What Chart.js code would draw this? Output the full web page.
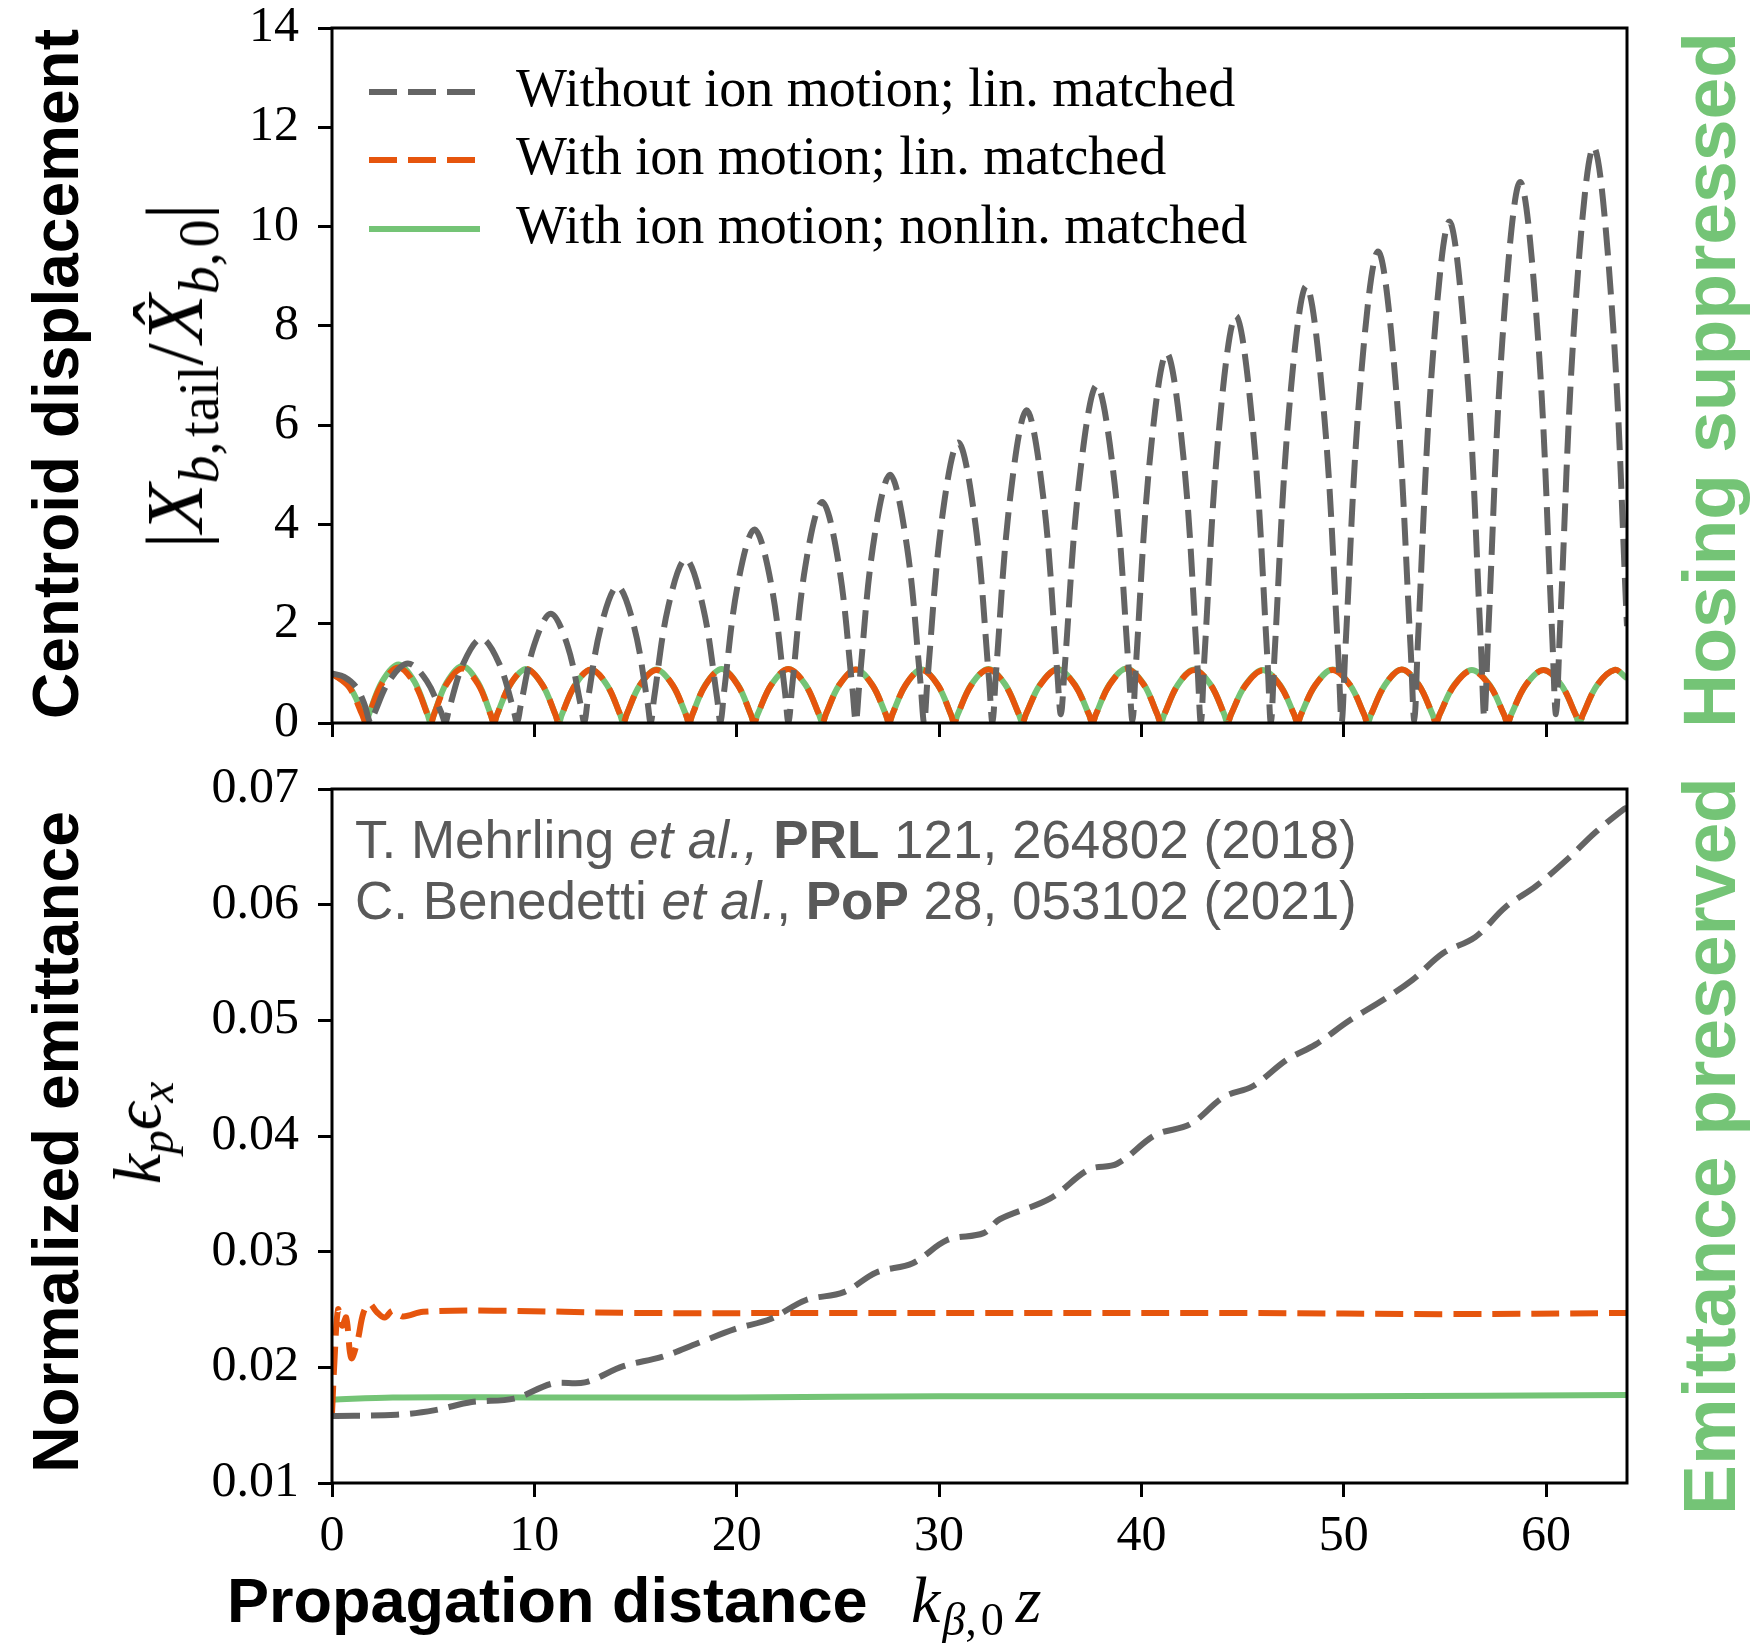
<!DOCTYPE html>
<html>
<head>
<meta charset="utf-8">
<script src="https://cdn.jsdelivr.net/npm/chart.js@4.4.1/dist/chart.umd.min.js"></script>
<style>
  html, body { margin: 0; padding: 0; background: #fff; }
  #page { position: relative; width: 1752px; height: 1643px; overflow: hidden; background: #fff; }
  canvas { position: absolute; left: 0; }
  #top-chart { top: 0; }
  #bottom-chart { top: 760px; }
  .label { position: absolute; white-space: nowrap; line-height: 1; }
  .rot { transform: translate(-50%, -50%) rotate(-90deg); }
  .bold { font-family: "Liberation Sans", Arial, sans-serif; font-weight: bold; }
  .math { font-family: "Liberation Serif", serif; }
  .math sub { font-size: 0.7em; vertical-align: -0.28em; line-height: 0; }
  .cite { font-family: "Liberation Sans", Arial, sans-serif; font-size: 53px; color: #595959; }
  .green { color: #74c476; }
</style>
</head>
<body>
<div id="page">
  <canvas id="top-chart" width="1752" height="760"></canvas>
  <canvas id="bottom-chart" width="1752" height="883"></canvas>

  <div class="label bold rot" style="left:56px; top:374px; font-size:64px;">Centroid displacement</div>
  <div class="label bold rot" style="left:56px; top:1142px; font-size:64px;">Normalized emittance</div>
  <div class="label math rot" style="left:175px; top:376px; font-size:80px;">|<i>X</i><sub><i>b</i>,&#8202;tail</sub>/<i>X&#770;</i><sub><i>b</i>,&#8202;0</sub>|</div>
  <div class="label math rot" style="left:137px; top:1133px; font-size:68px;"><i>k</i><sub><i>p</i></sub><i>&#1013;</i><sub><i>x</i></sub></div>
  <div class="label bold rot green" style="left:1709px; top:380px; font-size:75px;">Hosing suppressed</div>
  <div class="label bold rot green" style="left:1709px; top:1146px; font-size:75px;">Emittance preserved</div>

  <div class="label cite" style="left:355px; top:813px;">T. Mehrling <i>et al.,</i> <b>PRL</b> 121, 264802 (2018)</div>
  <div class="label cite" style="left:355px; top:874px;">C. Benedetti <i>et al.</i>, <b>PoP</b> 28, 053102 (2021)</div>

  <div class="label bold" style="left:227px; top:1569px; font-size:63px;">Propagation distance</div>
  <div class="label math" style="left:911px; top:1567px; font-size:66px;"><i>k</i><sub style="margin-left:2px;"><i>&beta;</i>,&#8202;0</sub><i style="margin-left:12px;">z</i></div>
</div>

<script>
// --- DATA: top panel, |X_b,tail / X_b,0| ---
const greyTopX = [0, 0.6, 1.2, 1.6, 1.9,
  2.09, 2.83, 3.75, 4.68, 5.42, 5.6,
  5.78, 6.49, 7.38, 8.26, 8.97, 9.15,
  9.32, 9.98, 10.81, 11.64, 12.30, 12.47,
  12.63, 13.29, 14.11, 14.93, 15.59, 15.75,
  15.92, 16.61, 17.48, 18.34, 19.03, 19.2,
  19.37, 20.04, 20.88, 21.72, 22.39, 22.56,
  22.73, 23.39, 24.23, 25.06, 25.72, 25.89,
  26.06, 26.73, 27.58, 28.42, 29.09, 29.26,
  29.43, 30.11, 30.95, 31.80, 32.47, 32.64,
  32.81, 33.49, 34.33, 35.18, 35.85, 36.02,
  36.2, 36.91, 37.79, 38.68, 39.38, 39.56,
  39.73, 40.41, 41.25, 42.1, 42.77, 42.94,
  43.11, 43.81, 44.67, 45.54, 46.23, 46.4,
  46.58, 47.28, 48.15, 49.03, 49.73, 49.9,
  50.08, 50.8, 51.7, 52.59, 53.31, 53.49,
  53.66, 54.36, 55.22, 56.09, 56.78, 56.95,
  57.13, 57.84, 58.72, 59.61, 60.31, 60.49,
  60.68, 61.42, 62.35, 63.28, 64];
const greyTopY = [1.0, 0.93, 0.72, 0.38, 0,
  0.19, 0.85, 1.2, 0.85, 0.19, 0,
  0.27, 1.2, 1.7, 1.2, 0.27, 0,
  0.34, 1.56, 2.2, 1.56, 0.34, 0,
  0.43, 1.94, 2.75, 1.94, 0.43, 0,
  0.51, 2.33, 3.3, 2.33, 0.51, 0,
  0.61, 2.76, 3.9, 2.76, 0.61, 0,
  0.69, 3.15, 4.45, 3.15, 0.69, 0.03,
  0.78, 3.54, 5.0, 3.54, 0.78, 0,
  0.88, 4.0, 5.65, 4.0, 0.88, 0,
  0.98, 4.45, 6.3, 4.45, 0.98, 0.18,
  1.06, 4.81, 6.8, 4.81, 1.06, 0.05,
  1.16, 5.27, 7.45, 5.27, 1.16, 0,
  1.28, 5.8, 8.2, 5.8, 1.28, 0,
  1.37, 6.22, 8.8, 6.22, 1.37, 0.02,
  1.48, 6.72, 9.5, 6.72, 1.48, 0.05,
  1.58, 7.14, 10.1, 7.14, 1.58, 0.11,
  1.7, 7.71, 10.9, 7.71, 1.7, 0.18,
  1.81, 8.2, 11.6, 8.2, 1.95];

// both "with ion motion" runs are sampled at the same z
const ionTopX = [0, 0.85, 1.5, 1.67,
  1.83, 2.47, 3.28, 4.08, 4.72, 4.88,
  5.04, 5.66, 6.44, 7.22, 7.84, 8.0,
  8.16, 8.8, 9.6, 10.4, 11.04, 11.2,
  11.36, 12.0, 12.8, 13.6, 14.24, 14.4,
  14.56, 15.21, 16.03, 16.84, 17.49, 17.65,
  17.81, 18.45, 19.26, 20.06, 20.7, 20.86,
  21.03, 21.71, 22.55, 23.4, 24.07, 24.24,
  24.4, 25.06, 25.89, 26.71, 27.37, 27.53,
  27.69, 28.34, 29.14, 29.95, 30.59, 30.75,
  30.92, 31.59, 32.44, 33.28, 33.95, 34.12,
  34.29, 34.99, 35.85, 36.72, 37.41, 37.58,
  37.75, 38.43, 39.27, 40.12, 40.79, 40.96,
  41.13, 41.79, 42.61, 43.44, 44.1, 44.26,
  44.43, 45.13, 45.99, 46.86, 47.55, 47.72,
  47.89, 48.59, 49.45, 50.32, 51.01, 51.18,
  51.35, 52.03, 52.87, 53.72, 54.39, 54.56,
  54.74, 55.45, 56.33, 57.22, 57.92, 58.1,
  58.28, 58.99, 59.87, 60.76, 61.46, 61.64,
  61.82, 62.52, 63.39, 64];
const linTopY = [1.0, 0.72, 0.16, 0,
  0.17, 0.79, 1.12, 0.79, 0.17, 0,
  0.17, 0.78, 1.1, 0.78, 0.17, 0,
  0.17, 0.77, 1.09, 0.77, 0.17, 0,
  0.17, 0.76, 1.08, 0.76, 0.17, 0,
  0.17, 0.76, 1.07, 0.76, 0.17, 0,
  0.17, 0.76, 1.08, 0.76, 0.17, 0,
  0.17, 0.77, 1.09, 0.77, 0.17, 0,
  0.17, 0.76, 1.08, 0.76, 0.17, 0,
  0.17, 0.76, 1.07, 0.76, 0.17, 0,
  0.17, 0.76, 1.08, 0.76, 0.17, 0,
  0.17, 0.76, 1.08, 0.76, 0.17, 0,
  0.17, 0.77, 1.09, 0.77, 0.17, 0,
  0.17, 0.76, 1.07, 0.76, 0.17, 0,
  0.17, 0.75, 1.06, 0.75, 0.17, 0,
  0.17, 0.76, 1.07, 0.76, 0.17, 0,
  0.17, 0.76, 1.08, 0.76, 0.17, 0,
  0.17, 0.75, 1.06, 0.75, 0.17, 0,
  0.17, 0.76, 1.07, 0.76, 0.17, 0,
  0.17, 0.76, 1.07, 0.9];
const nonlinTopY = [1.0, 0.74, 0.2, 0,
  0.18, 0.83, 1.18, 0.83, 0.18, 0,
  0.18, 0.81, 1.15, 0.81, 0.18, 0,
  0.17, 0.77, 1.09, 0.77, 0.17, 0,
  0.17, 0.76, 1.08, 0.76, 0.17, 0,
  0.17, 0.76, 1.08, 0.76, 0.17, 0,
  0.17, 0.77, 1.09, 0.77, 0.17, 0,
  0.17, 0.77, 1.09, 0.77, 0.17, 0,
  0.17, 0.76, 1.08, 0.76, 0.17, 0,
  0.17, 0.76, 1.08, 0.76, 0.17, 0,
  0.17, 0.77, 1.09, 0.77, 0.17, 0,
  0.17, 0.77, 1.09, 0.77, 0.17, 0,
  0.17, 0.78, 1.1, 0.78, 0.17, 0,
  0.17, 0.76, 1.08, 0.76, 0.17, 0,
  0.17, 0.76, 1.07, 0.76, 0.17, 0,
  0.17, 0.76, 1.08, 0.76, 0.17, 0,
  0.17, 0.76, 1.08, 0.76, 0.17, 0,
  0.17, 0.76, 1.07, 0.76, 0.17, 0,
  0.17, 0.76, 1.07, 0.76, 0.17, 0,
  0.17, 0.76, 1.07, 0.9];

// --- DATA: bottom panel, k_p eps_x ---
const greyBotX = [0, 3.2, 5.1, 6.9, 9.0, 10.9, 12.5, 14.4, 16.3, 18.1,
  19.9, 21.7, 23.4, 25.3, 26.9, 28.7, 30.4, 32.2, 33.0, 35.5,
  37.4, 38.8, 40.7, 42.4, 44.1, 45.5, 47.2, 48.6, 50.3, 51.8,
  53.4, 54.9, 56.5, 58.0, 59.5, 61.1, 62.4, 63.8, 64];
const greyBotY = [0.0158, 0.0159, 0.0163, 0.0170, 0.0173, 0.0186, 0.0187, 0.0201, 0.0209, 0.0221,
  0.0233, 0.0242, 0.0258, 0.0265, 0.0282, 0.0290, 0.0310, 0.0316, 0.0328, 0.0346,
  0.0371, 0.0376, 0.0401, 0.0410, 0.0434, 0.0443, 0.0466, 0.0479, 0.0500, 0.0516,
  0.0535, 0.0558, 0.0572, 0.0598, 0.0616, 0.0640, 0.0662, 0.0682, 0.0684];
const linBotX = [0, 0.12, 0.3, 0.5, 0.7, 0.95, 1.25, 1.55, 1.85, 2.2, 2.6, 3.0, 3.5, 4.5, 8, 15, 25, 35, 45, 55, 64];
const linBotY = [0.0160, 0.0205, 0.0250, 0.0236, 0.0243, 0.0208, 0.0222, 0.0247, 0.0255, 0.0248, 0.0243,
  0.0249, 0.0244, 0.0248, 0.0249, 0.0247, 0.0247, 0.0247, 0.0247, 0.0246, 0.0247];
const nonlinBotX = [0, 3, 10, 20, 30, 40, 50, 64];
const nonlinBotY = [0.0172, 0.0174, 0.0174, 0.0174, 0.0175, 0.0175, 0.0175, 0.0176];

const SERIES_LABELS = [
  'Without ion motion; lin. matched',
  'With ion motion; lin. matched',
  'With ion motion; nonlin. matched'
];
const X_TICK_STEP = 10;

// --- STYLE ---
const GREY = '#646464';
const ORANGE = '#e6550d';
const GREEN = '#74c476';
const DASH = [28, 11];
const tickFont = { family: '"Liberation Serif", serif', size: 50, lineHeight: 1 };

function toPoints(xs, ys) {
  return xs.map((x, i) => ({ x: x, y: ys[i] }));
}

function lineSet(label, xs, ys, color, dashed) {
  return {
    label: label,
    data: toPoints(xs, ys),
    borderColor: color,
    borderWidth: 6,
    borderDash: dashed ? DASH : [],
    borderCapStyle: 'butt',
    borderJoinStyle: 'round',
    pointRadius: 0,
    tension: 0.35,
    fill: false
  };
}

// box around the plot area, like matplotlib spines
const framePlugin = {
  id: 'frame',
  afterDraw(chart) {
    const { ctx, chartArea: a } = chart;
    ctx.save();
    ctx.strokeStyle = '#000';
    ctx.lineWidth = 3;
    ctx.strokeRect(a.left, a.top, a.right - a.left, a.bottom - a.top);
    ctx.restore();
  }
};

// legend drawn inside the top axes
const legendPlugin = {
  id: 'insideLegend',
  afterDraw(chart) {
    const ctx = chart.ctx;
    const a = chart.chartArea;
    const rowY = [a.top + 64, a.top + 132, a.top + 201];
    ctx.save();
    chart.data.datasets.forEach((ds, i) => {
      const y = rowY[i];
      ctx.strokeStyle = ds.borderColor;
      ctx.lineWidth = ds.borderWidth;
      ctx.lineCap = 'butt';
      ctx.setLineDash(ds.borderDash);
      ctx.beginPath();
      ctx.moveTo(a.left + 37, y);
      ctx.lineTo(a.left + 148, y);
      ctx.stroke();
      ctx.setLineDash([]);
      ctx.fillStyle = '#000';
      ctx.font = '54px "Liberation Serif"';
      ctx.textBaseline = 'middle';
      ctx.textAlign = 'left';
      ctx.fillText(ds.label, a.left + 184, y);
    });
    ctx.restore();
  }
};

function makeChart(canvasId, datasets, yCfg, opts) {
  const ctx = document.getElementById(canvasId).getContext('2d');
  return new Chart(ctx, {
    type: 'line',
    data: { datasets: datasets },
    options: {
      responsive: false,
      animation: false,
      devicePixelRatio: 1,
      layout: { padding: { left: 0, right: 125, top: opts.padTop, bottom: 0 } },
      plugins: { legend: { display: false }, tooltip: { enabled: false } },
      scales: {
        x: {
          type: 'linear',
          min: 0,
          max: 64,
          ticks: {
            stepSize: X_TICK_STEP,
            includeBounds: false,
            display: opts.xLabels,
            padding: 15,
            maxRotation: 0,
            color: '#000',
            font: tickFont
          },
          grid: { drawOnChartArea: false, drawTicks: true, tickLength: 14, tickWidth: 3, tickColor: '#000' },
          border: { display: false },
          afterFit: s => {
            s.height = opts.xHeight;
            s.paddingLeft = 0;
            s.paddingRight = 0;
          }
        },
        y: {
          type: 'linear',
          min: yCfg.min,
          max: yCfg.max,
          ticks: {
            stepSize: yCfg.step,
            includeBounds: false,
            padding: 19,
            color: '#000',
            font: tickFont,
            callback: v => v.toFixed(yCfg.decimals)
          },
          grid: { drawOnChartArea: false, drawTicks: true, tickLength: 14, tickWidth: 3, tickColor: '#000' },
          border: { display: false },
          afterFit: s => {
            // fixed axis width, and no extra room asked for the end labels
            s.width = 332;
            s.paddingTop = 0;
            s.paddingBottom = 0;
          }
        }
      }
    },
    plugins: opts.plugins
  });
}

// first dataset is drawn on top, so grey goes first
const topChart = makeChart('top-chart', [
  lineSet(SERIES_LABELS[0], greyTopX, greyTopY, GREY, true),
  lineSet(SERIES_LABELS[1], ionTopX, linTopY, ORANGE, true),
  lineSet(SERIES_LABELS[2], ionTopX, nonlinTopY, GREEN, false)
], { min: 0, max: 14, step: 2, decimals: 0 },
   { padTop: 28, xHeight: 37, xLabels: false, plugins: [framePlugin, legendPlugin] });

const bottomChart = makeChart('bottom-chart', [
  lineSet(SERIES_LABELS[0], greyBotX, greyBotY, GREY, true),
  lineSet(SERIES_LABELS[1], linBotX, linBotY, ORANGE, true),
  lineSet(SERIES_LABELS[2], nonlinBotX, nonlinBotY, GREEN, false)
], { min: 0.01, max: 0.07, step: 0.01, decimals: 2 },
   { padTop: 29, xHeight: 160, xLabels: true, plugins: [framePlugin] });
</script>
</body>
</html>
